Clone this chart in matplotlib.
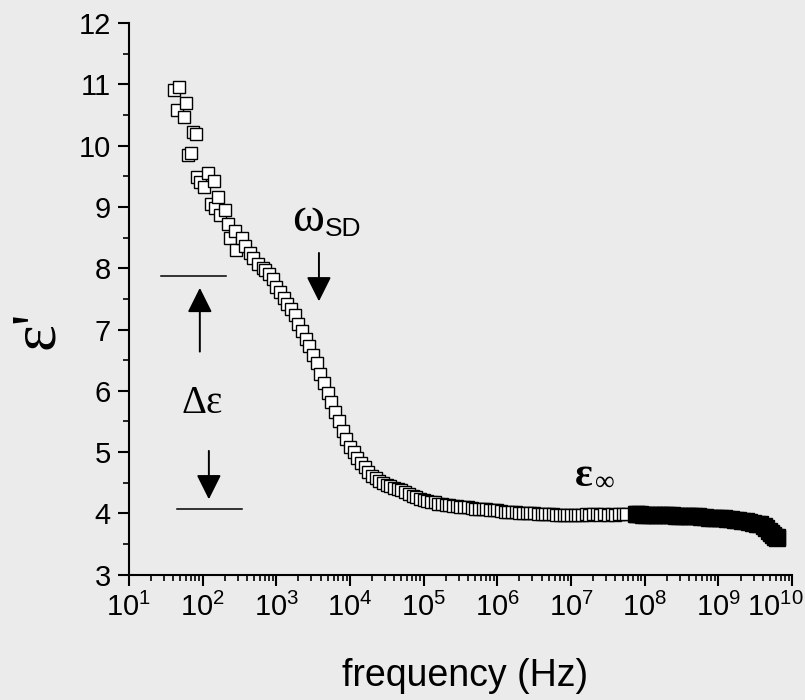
import numpy as np
import matplotlib.pyplot as plt
from matplotlib.ticker import FixedLocator, LogLocator, NullFormatter
from matplotlib.transforms import ScaledTranslation

plt.rcParams['font.family'] = ['Liberation Sans Narrow', 'Liberation Sans', 'DejaVu Sans']
plt.rcParams['mathtext.default'] = 'regular'

# low-frequency sweep (open squares): log10(f / Hz) and eps'
logf_low = [1.62, 1.65, 1.68, 1.75, 1.77, 1.81, 1.84, 1.87, 1.91, 1.92, 1.96, 2.02,
            2.07, 2.12, 2.15, 2.17, 2.21, 2.24, 2.31, 2.35, 2.37, 2.44, 2.46, 2.53,
            2.57, 2.64, 2.68, 2.75, 2.82,
            2.85, 2.90, 2.95, 3.00, 3.05, 3.10, 3.15, 3.20, 3.25, 3.30, 3.35, 3.40,
            3.45, 3.50, 3.55, 3.60, 3.65, 3.70, 3.75, 3.80, 3.85, 3.90, 3.95, 4.00,
            4.05, 4.10, 4.15, 4.20, 4.25, 4.30, 4.35, 4.40, 4.45, 4.50, 4.55, 4.60,
            4.65, 4.70, 4.75, 4.80, 4.85, 4.90, 4.95, 5.00, 5.05, 5.10, 5.15, 5.20,
            5.25, 5.30, 5.35, 5.40, 5.45, 5.50, 5.55, 5.60, 5.65, 5.70, 5.75, 5.80,
            5.85, 5.90, 5.95, 6.00, 6.05, 6.10, 6.15, 6.20, 6.25, 6.30, 6.35, 6.40,
            6.45, 6.50, 6.55, 6.60, 6.65, 6.70, 6.75, 6.80, 6.85, 6.90, 6.95, 7.00,
            7.05, 7.10, 7.15, 7.20, 7.25, 7.30, 7.35, 7.40, 7.45, 7.50, 7.55, 7.60,
            7.65, 7.70, 7.75]
eps_low = [10.91, 10.58, 10.96, 10.47, 10.70, 9.85, 9.88, 10.23, 10.19, 9.49, 9.41, 9.32,
           9.56, 9.05, 9.42, 8.98, 9.17, 8.87, 8.95, 8.73, 8.50, 8.61, 8.30, 8.50,
           8.36, 8.25, 8.16, 8.07, 8.01,
           7.97, 7.90, 7.82, 7.70, 7.61, 7.52, 7.42, 7.33, 7.23, 7.09, 6.97, 6.85,
           6.73, 6.59, 6.45, 6.28, 6.12, 5.97, 5.81, 5.65, 5.50, 5.35, 5.22, 5.09,
           5.00, 4.91, 4.82, 4.75, 4.68, 4.61, 4.57, 4.53, 4.50, 4.47, 4.45, 4.42,
           4.40, 4.38, 4.35, 4.31, 4.28, 4.26, 4.24, 4.22, 4.21, 4.19, 4.18, 4.16,
           4.15, 4.14, 4.13, 4.12, 4.12, 4.11, 4.10, 4.10, 4.09, 4.08, 4.08, 4.07,
           4.07, 4.06, 4.05, 4.05, 4.04, 4.03, 4.03, 4.02, 4.02, 4.01, 4.01, 4.00,
           4.00, 4.00, 3.99, 3.99, 3.99, 3.99, 3.99, 3.98, 3.98, 3.98, 3.98, 3.98,
           3.98, 3.98, 3.98, 3.99, 3.98, 3.99, 3.99, 3.98, 3.99, 3.98, 3.99, 3.98,
           3.99, 3.99, 3.99]

# high-frequency sweep (dense, looks solid black)
logf_high = [7.88, 7.90, 7.94, 7.97, 8.02, 8.07, 8.12, 8.17, 8.22, 8.27, 8.32, 8.37,
             8.42, 8.47, 8.52, 8.57, 8.62, 8.67, 8.72, 8.77, 8.82, 8.87, 8.92, 8.97,
             9.02, 9.07, 9.12, 9.17, 9.22, 9.27, 9.32, 9.37, 9.42, 9.47, 9.52, 9.57,
             9.62, 9.65, 9.68, 9.71, 9.74, 9.77, 9.79, 9.80]
eps_high = [3.99, 3.99, 3.99, 3.98, 3.98, 3.98, 3.98, 3.98, 3.97, 3.97, 3.97, 3.97,
            3.96, 3.96, 3.96, 3.96, 3.95, 3.95, 3.95, 3.94, 3.94, 3.93, 3.93, 3.93,
            3.92, 3.92, 3.91, 3.91, 3.90, 3.89, 3.88, 3.87, 3.86, 3.84, 3.82, 3.82,
            3.80, 3.76, 3.72, 3.68, 3.64, 3.61, 3.62, 3.60]

decades = list(range(1, 11))
yticks = [3, 4, 5, 6, 7, 8, 9, 10, 11, 12]

bg = '#ebebeb'
fig = plt.figure(figsize=(8.05, 7.0), dpi=100, facecolor=bg)
ax = fig.add_axes([0.160, 0.179, 0.824, 0.788], facecolor=bg)

ax.plot(10 ** np.array(logf_low), eps_low, ls='none', marker='s', ms=8.6,
        mfc='white', mec='black', mew=1.0)
ax.plot(10 ** np.array(logf_high), eps_high, ls='none', marker='s', ms=11.5,
        mfc='black', mec='black', mew=1.0)

ax.set_xscale('log')
ax.set_xlim(10, 1e10)
ax.set_ylim(3, 12)
ax.xaxis.set_major_locator(FixedLocator([10.0 ** d for d in decades]))
ax.xaxis.set_minor_locator(LogLocator(base=10, subs=np.arange(2, 10), numticks=20))
ax.xaxis.set_minor_formatter(NullFormatter())
ax.set_xticklabels([r'$10^{%d}$' % d for d in decades])
ax.set_yticks(yticks)
ax.set_yticks(np.arange(3.5, 12, 1.0), minor=True)

for s in ['top', 'right']:
    ax.spines[s].set_visible(False)
for s in ['left', 'bottom']:
    ax.spines[s].set_linewidth(1.5)
ax.tick_params(which='major', direction='out', length=8, width=1.5, labelsize=21, pad=5)
ax.tick_params(which='minor', direction='out', length=4, width=1.2)

# last label would run off the figure edge: right-align it just inside
last = ax.get_xticklabels()[-1]
last.set_horizontalalignment('right')
last.set_transform(last.get_transform() + ScaledTranslation(11 / 100, 0, fig.dpi_scale_trans))

# annotations
serif = ['Liberation Serif', 'DejaVu Serif']
arrow = dict(arrowstyle='-|>,head_length=0.4,head_width=0.2', color='black',
             lw=1.4, shrinkA=0, shrinkB=0, mutation_scale=38)

ax.plot([27, 207], [7.88, 7.88], color='black', lw=1.1)
ax.plot([45, 340], [4.07, 4.07], color='black', lw=1.1)
ax.annotate('', xy=(92, 7.68), xytext=(92, 6.64), arrowprops=arrow)
ax.annotate('', xy=(122, 4.23), xytext=(122, 5.02), arrowprops=arrow)
ax.text(100, 5.64, 'Δε', family=serif, fontsize=28, ha='center', va='baseline')

ax.annotate('', xy=(3800, 7.46), xytext=(3800, 8.25), arrowprops=arrow)
ax.text(10 ** 3.21, 8.60, 'ω', family=serif, fontsize=35, ha='left', va='baseline')
ax.text(10 ** 3.66, 8.53, 'SD', family=['Liberation Sans', 'DejaVu Sans'], fontsize=19,
        ha='left', va='baseline')

ax.text(10 ** 7.05, 4.45, 'ε', family=serif, fontsize=30, fontweight='bold',
        ha='left', va='baseline')
ax.text(10 ** 7.33, 4.39, '∞', family=serif, fontsize=20, ha='left', va='baseline')

fig.text(465 / 805, 1 - 686 / 700, 'frequency (Hz)', fontsize=27, ha='center', va='baseline')
fig.text(38 / 805, 1 - 330 / 700, "ε'", family=serif, fontsize=46, rotation=90,
         ha='center', va='center')

fig.savefig('out.png', dpi=100, facecolor=bg)
